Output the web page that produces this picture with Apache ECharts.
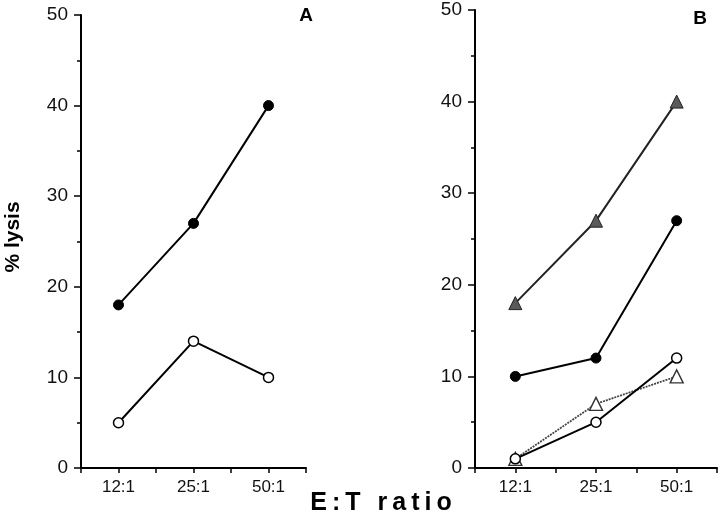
<!DOCTYPE html>
<html><head><meta charset="utf-8">
<script src="https://cdn.jsdelivr.net/npm/echarts@6/dist/echarts.min.js"></script>
<style>html,body{margin:0;padding:0;background:#fff}#c{width:720px;height:523px}</style>
</head><body><div id="c"></div>
<script>
const categories = ['12:1', '25:1', '50:1'];
const yTicks = [0, 10, 20, 30, 40, 50];
// Panel A
const aFilledCircle = [18, 27, 40];
const aOpenCircle = [5, 14, 10];
// Panel B
const bFilledTriangle = [18, 27, 40];
const bFilledCircle = [10, 12, 27];
const bOpenCircle = [1, 5, 12];
const bOpenTriangle = [1, 7, 10];

const toXY = vals => vals.map((v, i) => [2 * i + 1, v]);
const FF = 'Arial';

function xAx(gi) {
  return {
    type: 'value', gridIndex: gi, min: 0, max: 6, interval: 1,
    axisLine: { lineStyle: { color: '#000', width: 2 } },
    axisTick: { show: true, length: 5, lineStyle: { color: '#000', width: 1.5 } },
    splitLine: { show: false },
    axisLabel: {
      fontFamily: FF, fontSize: 17, color: '#111', margin: 11,
      formatter: v => (v % 2 === 1 ? categories[(v - 1) / 2] : '')
    }
  };
}
function yAx(gi) {
  return {
    type: 'value', gridIndex: gi, min: yTicks[0], max: yTicks[yTicks.length - 1], interval: 10,
    axisLine: { show: true, lineStyle: { color: '#000', width: 2 } },
    axisTick: { show: true, length: 7, lineStyle: { color: '#000', width: 1.5 } },
    minorTick: { show: true, splitNumber: 2, length: 4, lineStyle: { color: '#000', width: 1.5 } },
    splitLine: { show: false },
    axisLabel: { fontFamily: FF, fontSize: 19, color: '#111', margin: 13 }
  };
}
function ser(gi, vals, opts) {
  return Object.assign({
    type: 'line', xAxisIndex: gi, yAxisIndex: gi, data: toXY(vals),
    symbolSize: 10, z: 3, animation: false
  }, opts);
}
const blackLine = { color: '#000', width: 2 };

const chart = echarts.init(document.getElementById('c'), null, { renderer: 'canvas' });
chart.setOption({
  animation: false,
  backgroundColor: '#fff',
  grid: [
    { left: 81, top: 15, width: 225, bottom: 55 },
    { left: 475, top: 10, width: 242, bottom: 55 }
  ],
  xAxis: [xAx(0), xAx(1)],
  yAxis: [yAx(0), yAx(1)],
  graphic: [
    { type: 'text', x: 306, y: 16, style: { text: 'A', fontFamily: FF, fontWeight: 'bold', fontSize: 19, fill: '#000', align: 'center', verticalAlign: 'middle' } },
    { type: 'text', x: 700, y: 19, style: { text: 'B', fontFamily: FF, fontWeight: 'bold', fontSize: 19, fill: '#000', align: 'center', verticalAlign: 'middle' } },
    { type: 'text', x: 13, y: 237, rotation: Math.PI / 2,
      style: { text: '% lysis', fontFamily: FF, fontWeight: 'bold', fontSize: 21, fill: '#000', align: 'center', verticalAlign: 'middle' } },
    { type: 'text', x: 381, y: 503,
      style: { text: 'E\u2009:\u2009T\u2009 \u2009r\u2009a\u2009t\u2009i\u2009o', fontFamily: FF, fontWeight: 'bold', fontSize: 25, fill: '#000', align: 'center', verticalAlign: 'middle' } }
  ],
  series: [
    ser(0, aFilledCircle, { symbol: 'circle', lineStyle: blackLine, itemStyle: { color: '#000', borderColor: '#000', borderWidth: 1 } }),
    ser(0, aOpenCircle, { symbol: 'circle', lineStyle: blackLine, itemStyle: { color: '#fff', borderColor: '#000', borderWidth: 1.5 } }),
    ser(1, bFilledTriangle, { symbol: 'triangle', symbolSize: 13, lineStyle: { color: '#222', width: 2 }, itemStyle: { color: '#5a5a5a', borderColor: '#222', borderWidth: 1 } }),
    ser(1, bFilledCircle, { symbol: 'circle', lineStyle: blackLine, itemStyle: { color: '#000', borderColor: '#000', borderWidth: 1 } }),
    ser(1, bOpenTriangle, { symbol: 'triangle', symbolSize: 13, lineStyle: { color: '#444', width: 1.8, type: [2, 1] }, itemStyle: { color: '#fff', borderColor: '#333', borderWidth: 1.4 } }),
    ser(1, bOpenCircle, { symbol: 'circle', lineStyle: blackLine, itemStyle: { color: '#fff', borderColor: '#000', borderWidth: 1.5 } })
  ]
});
</script>
</body></html>
